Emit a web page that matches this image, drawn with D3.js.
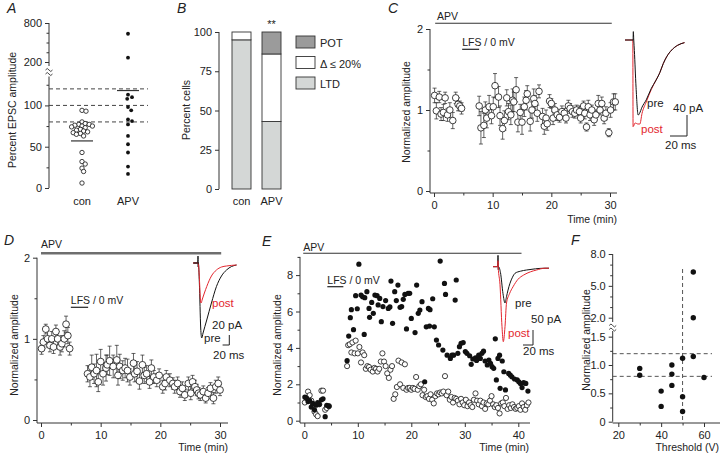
<!DOCTYPE html>
<html><head><meta charset="utf-8">
<script src="https://cdn.jsdelivr.net/npm/d3@7"></script>
<style>body{margin:0;background:#fff}svg{display:block}</style>
</head><body><svg id="c" width="720" height="454"></svg>
<script>
// ---------------- DATA ----------------
// Panel A
const aCategories = ["con", "APV"];
const aCon = [94,93,80,78,77,77,76,75,75,74,73,71,70,69,68,67,66,65,63,43,32,29,24,20,6];
const aApv = [635,266,113,110,108,98,94,83,81,77,63,53,43,26,17];
const aMeans = [57,118];
const aRefLines = [120,100,80];
// Panel B
const bCategories = ["con","APV"];
const bLTD = [95,43];
const bNoChange = [5,43];
const bPOT = [0,14];
const bLegend = ["POT","Δ ≤ 20%","LTD"];
// Panel C (time min, mean, sem)
const cTime = [0.1,0.4,0.9,1.2,1.6,1.9,2.3,2.7,3.2,3.7,4.1,4.4,4.7,
 7.7,8.0,8.5,8.75,9.0,9.4,9.8,10.1,10.4,11.0,11.25,11.7,12.0,12.4,12.7,13.1,13.4,13.6,14.0,14.3,14.7,15.0,15.4,15.7,15.9,16.4,16.7,17.0,17.2,17.6,17.9,18.5,18.8,19.1,19.3,19.7,20.0,20.3,20.6,21.0,21.4,21.8,22.2,22.5,22.9,23.2,23.6,24.0,24.3,24.8,25.0,25.5,25.7,26.0,26.3,26.6,26.9,27.3,27.6,28.0,28.3,28.6,29.0,29.3,29.8,30.1,30.6,30.9];
const cMean = [1.18,0.99,1.16,0.95,0.97,1.15,0.94,1.00,0.87,1.15,1.07,1.05,1.02,
 1.05,0.78,0.81,1.0,0.9,1.04,0.93,1.04,1.30,1.16,0.93,0.77,0.87,1.15,0.98,0.94,1.12,1.10,1.25,0.85,0.97,0.85,1.04,1.12,1.20,0.86,1.00,1.14,1.08,0.96,1.23,0.92,0.80,0.90,0.83,1.11,1.08,0.90,1.00,0.94,0.91,0.98,0.96,0.90,1.05,1.02,0.98,0.96,1.00,0.98,0.90,1.05,0.96,0.79,1.04,0.94,1.00,0.88,0.94,1.08,1.00,1.08,0.90,0.96,0.72,1.00,1.10,1.10];
const cErr = [0.09,0.1,0.07,0.08,0.1,0.07,0.08,0.09,0.1,0.07,0.08,0.06,0.07,
 0.12,0.2,0.15,0.1,0.12,0.14,0.1,0.12,0.15,0.13,0.12,0.13,0.12,0.1,0.1,0.12,0.14,0.12,0.15,0.12,0.1,0.15,0.12,0.12,0.1,0.12,0.1,0.12,0.1,0.1,0.08,0.1,0.1,0.1,0.08,0.08,0.06,0.08,0.08,0.07,0.06,0.07,0.06,0.06,0.07,0.06,0.07,0.06,0.06,0.07,0.06,0.06,0.07,0.05,0.08,0.07,0.06,0.07,0.06,0.1,0.06,0.08,0.07,0.08,0.05,0.09,0.1,0.1];
// Panel D
const dTime = [0.1,0.4,0.8,1.1,1.5,1.8,2.1,2.5,2.8,3.2,3.5,3.9,4.2,4.5,4.8,
 7.8,8.2,8.5,8.9,9.3,9.6,10.0,10.4,10.9,11.1,11.5,12.1,12.7,12.9,13.2,13.7,14.1,14.5,14.9,15.5,15.7,16.1,16.5,17.0,17.3,17.7,18.2,18.5,18.9,19.4,19.8,20.4,20.8,21.0,21.6,22.1,22.4,22.9,23.3,23.7,24.1,24.7,25.1,25.4,25.8,26.1,26.4,26.7,27.2,27.6,28.0,28.4,28.9,29.3,29.7,30.0];
const dMean = [0.88,0.96,1.12,1.0,0.92,1.0,0.9,1.09,1.0,0.9,0.94,1.0,1.18,1.04,0.88,
 0.57,0.53,0.65,0.57,0.61,0.47,0.72,0.57,0.64,0.68,0.73,0.66,0.74,0.55,0.66,0.61,0.64,0.61,0.53,0.70,0.57,0.60,0.48,0.68,0.55,0.57,0.47,0.64,0.53,0.49,0.55,0.41,0.45,0.53,0.49,0.45,0.41,0.45,0.35,0.39,0.31,0.45,0.33,0.47,0.41,0.37,0.33,0.31,0.35,0.27,0.33,0.39,0.27,0.41,0.45,0.37];
const dErr = [0.07,0.08,0.06,0.1,0.08,0.09,0.08,0.08,0.09,0.1,0.1,0.1,0.1,0.1,0.08,
 0.1,0.12,0.15,0.12,0.2,0.12,0.15,0.14,0.16,0.12,0.18,0.14,0.18,0.12,0.15,0.12,0.12,0.14,0.1,0.12,0.1,0.12,0.1,0.12,0.1,0.1,0.08,0.1,0.08,0.08,0.08,0.08,0.08,0.08,0.08,0.07,0.08,0.08,0.07,0.08,0.07,0.08,0.08,0.08,0.08,0.07,0.07,0.07,0.07,0.06,0.07,0.07,0.07,0.08,0.08,0.07];
// Panel E  [time, amplitude]
const eFilled = [[0.1,1.3],[0.4,1.25],[0.7,1.05],[1.0,1.1],[1.3,0.75],[1.6,0.95],[1.9,0.6],[2.2,0.85],[2.5,1.0],[2.8,0.9],[3.2,1.15],[3.5,1.2],[3.9,0.22],[4.2,0.85],[4.6,0.8],
 [8.0,3.3],[8.3,4.65],[8.6,5.66],[8.8,6.1],[9.2,5.0],[9.6,6.87],[9.9,6.15],[10.2,8.6],[10.6,6.9],[10.9,6.81],[11.2,4.74],[11.3,6.76],[11.7,7.09],[12.1,6.17],[12.2,5.68],[12.6,6.5],[12.9,5.9],[13.2,6.9],[13.6,6.87],[13.8,6.36],[14.1,6.72],[14.4,5.44],[14.7,6.27],[15.2,6.6],[15.7,6.17],[16.0,6.25],[16.2,7.67],[16.5,5.35],[16.9,7.09],[17.2,6.6],[17.5,7.45],[17.9,6.23],[18.2,6.27],[18.5,6.67],[18.8,6.94],[19.1,5.04],[19.4,7.0],[19.7,7.0],[20.0,5.62],[20.7,4.84],[21.0,7.45],[21.3,5.9],[21.6,6.08],[22.0,6.54],[22.5,2.14],[22.8,5.16],[23.2,6.17],[23.4,5.2],[23.5,6.1],[24.0,6.7],[24.3,5.16],[24.7,4.43],[25.1,4.16],[25.4,8.77],[25.9,3.88],[26.2,7.54],[26.4,6.94],[26.7,3.6],[27.3,3.42],[27.6,3.6],[27.9,3.6],[28.2,6.63],[28.4,7.73],[28.7,3.7],[29.0,4.07],[29.3,4.25],[29.7,4.29],[30.1,3.8],[30.4,3.7],[30.9,3.57],[31.2,3.1],[31.5,3.39],[32.0,3.46],[32.2,3.31],[32.6,3.6],[32.9,3.42],[33.2,3.7],[33.5,3.82],[33.8,3.28],[34.2,3.06],[34.5,3.33],[34.8,3.15],[35.1,2.97],[35.4,2.88],[35.7,4.5],[35.9,2.24],[36.2,3.42],[36.5,3.6],[36.6,1.78],[37.0,3.28],[37.3,2.69],[37.6,1.69],[38.2,2.6],[38.5,2.5],[38.8,2.41],[39.3,2.29],[39.8,2.24],[40.1,2.14],[40.4,2.05],[40.7,1.82],[41.0,2.09],[41.4,2.05],[41.8,1.63]];
const eOpen = [[0.1,1.0],[0.4,1.25],[0.7,1.6],[1.0,1.4],[1.3,1.1],[1.6,0.85],[1.9,0.5],[2.2,0.35],[2.5,0.25],[2.8,0.9],[3.2,1.65],[3.5,1.65],[3.9,0.6],[4.2,0.7],[4.6,0.8],
 [8.0,3.0],[8.2,4.15],[8.5,4.2],[8.8,3.75],[9.0,4.3],[9.4,3.7],[9.6,4.4],[10.0,3.7],[10.3,4.05],[10.6,3.2],[10.9,3.75],[11.2,3.6],[11.5,2.85],[11.8,3.0],[12.1,2.95],[12.4,2.8],[12.8,2.7],[13.1,2.9],[13.4,2.85],[13.7,2.7],[14.0,2.85],[14.3,3.25],[14.6,3.7],[14.9,3.25],[15.2,3.0],[15.5,2.6],[15.8,2.35],[16.1,2.8],[16.4,3.0],[16.7,1.2],[17.0,1.45],[17.3,1.85],[17.6,3.3],[17.9,2.0],[18.2,3.2],[18.5,1.8],[18.8,3.1],[19.1,1.7],[19.4,1.8],[19.7,1.8],[20.0,1.7],[20.3,1.8],[20.6,1.75],[20.9,2.4],[21.2,1.7],[21.5,1.9],[21.8,2.0],[22.1,1.4],[22.4,1.7],[22.7,1.3],[23.0,1.35],[23.3,1.2],[23.6,1.45],[23.9,1.15],[24.2,0.95],[24.5,1.35],[24.8,1.5],[25.1,1.45],[25.4,1.55],[25.7,1.5],[26.0,1.6],[26.3,2.45],[26.6,1.4],[26.9,1.6],[27.2,1.15],[27.5,1.3],[27.8,1.0],[28.1,1.25],[28.4,1.2],[28.7,1.1],[29.0,0.9],[29.3,1.2],[29.6,1.0],[29.9,0.85],[30.2,1.15],[30.5,0.8],[30.8,1.0],[31.1,0.85],[31.4,0.75],[31.7,1.15],[32.0,1.5],[32.3,1.1],[32.6,0.9],[32.9,1.1],[33.2,0.8],[33.5,1.0],[33.8,0.65],[34.1,0.95],[34.4,0.9],[34.7,1.1],[35.0,1.35],[35.3,0.9],[35.6,0.75],[35.9,0.85],[36.2,0.7],[36.5,0.4],[36.8,0.95],[37.1,1.0],[37.4,0.8],[37.7,1.25],[38.0,0.65],[38.3,0.85],[38.6,0.7],[38.9,0.9],[39.2,0.75],[39.5,0.65],[39.8,0.7],[40.1,0.8],[40.4,0.6],[40.7,0.95],[41.0,0.75],[41.3,0.6],[41.6,0.85],[41.9,1.0]];
// Panel F
const fThreshold = [55,55,55,50,60,50,50,45,45,45,40,40,30,30];
const fAmplitude = [6.3,2.0,1.15,1.12,0.78,0.44,0.18,1.0,0.84,0.64,0.54,0.27,0.94,0.82];
// Example traces [ms, pA]
const cPre = [[0,0],[9.5,0],[9.8,16],[10.3,0],[11,-20],[13,-90],[15.5,-143],[17,-140],[20,-128],[25,-114],[31,-92],[36,-78],[41,-62],[45,-45],[49,-32],[55,-19],[62,-10],[70,-5]];
const cPost = [[0,0],[9.2,0],[9.5,-165],[12,-158],[15,-160],[17.5,-160],[20,-140],[25,-118],[31,-94],[36,-78],[41,-62],[45,-45],[49,-32],[55,-19],[62,-10],[70,-5]];
const dPre = [[0,0],[14,0],[15,14],[15.5,-8],[16,0],[19,-40],[23,-130],[26,-150],[30,-140],[41,-114],[55,-80],[70,-47],[85,-26],[100,-14],[115,-7],[130,-4]];
const dPost = [[0,0],[14,0],[15.6,0],[19,-30],[22,-72],[24,-80],[28,-72],[34,-60],[41,-47],[55,-26],[70,-14],[85,-8],[100,-6],[130,-4]];
const ePre = [[0,0],[9.5,0],[10,38],[10.5,-10],[11,0],[15,-20],[20,-90],[24,-121],[27,-100],[30,-78],[34,-55],[39,-35],[44,-22],[55,-15],[67,-11],[85,-7],[104,-5],[112,-5]];
const ePost = [[0,0],[9.5,0],[10,20],[10.5,0],[14,-60],[18,-200],[20.6,-250],[24,-200],[27,-121],[33,-90],[40,-67],[50,-42],[61,-28],[75,-17],[87,-11],[104,-5],[112,-5]];

// ---------------- DRAWING ----------------
const svg = d3.select("#c");
const FONT = "'Liberation Sans', Arial, Helvetica, sans-serif";
const INK = "#222", AX = "#333", RED = "#e3262e";

function text(g, x, y, s, o = {}) {
  const t = g.append("text").attr("x", x).attr("y", y).text(s)
    .attr("font-family", FONT).attr("font-size", o.size || 10.5)
    .attr("fill", o.fill || INK).attr("text-anchor", o.anchor || "start");
  if (o.italic) t.attr("font-style", "italic");
  if (o.rotate) t.attr("transform", `rotate(-90,${x},${y})`);
  return t;
}
function seg(g, x1, y1, x2, y2, o = {}) {
  return g.append("line").attr("x1", x1).attr("y1", y1).attr("x2", x2).attr("y2", y2)
    .attr("stroke", o.c || AX).attr("stroke-width", o.w || 1)
    .attr("stroke-dasharray", o.dash || null);
}
function styleAxis(sel) {
  sel.select(".domain").remove();
  sel.selectAll(".tick line").attr("stroke", AX);
  sel.selectAll(".tick text").attr("font-family", FONT).attr("font-size", 11).attr("fill", INK);
}
function yAxis(g, sc, x, majors, minors, fmt, y1, y2) {
  seg(g, x, y1, x, y2);
  g.append("g").attr("transform", `translate(${x},0)`)
    .call(d3.axisLeft(sc).tickValues(majors).tickFormat(fmt).tickSize(4).tickPadding(3)).call(styleAxis);
  if (minors.length) g.append("g").attr("transform", `translate(${x},0)`)
    .call(d3.axisLeft(sc).tickValues(minors).tickFormat("").tickSize(2.5)).call(styleAxis);
}
function xAxis(g, sc, y, majors, minors, fmt, x1, x2) {
  seg(g, x1, y, x2, y);
  g.append("g").attr("transform", `translate(0,${y})`)
    .call(d3.axisBottom(sc).tickValues(majors).tickFormat(fmt).tickSize(4).tickPadding(4)).call(styleAxis);
  if (minors.length) g.append("g").attr("transform", `translate(0,${y})`)
    .call(d3.axisBottom(sc).tickValues(minors).tickFormat("").tickSize(2.5)).call(styleAxis);
}
function breakMark(g, x, y) {
  g.append("rect").attr("x", x - 4).attr("y", y - 4).attr("width", 8).attr("height", 8).attr("fill", "#fff");
  [-2, 2].forEach(d => g.append("path")
    .attr("d", `M${x - 3.5},${y + d + 1} q1.75,-3 3.5,0 t3.5,0`)
    .attr("fill", "none").attr("stroke", AX).attr("stroke-width", 0.9));
}
function errCircles(g, xs, ys, T, M, E, r) {
  T.forEach((t, i) => {
    const x = xs(t), e = E[i] ?? 0.08, ya = ys(M[i] - e), yb = ys(M[i] + e);
    seg(g, x, ya, x, yb, { w: 0.7, c: "#222" });
    seg(g, x - 2, ya, x + 2, ya, { w: 0.7, c: "#222" });
    seg(g, x - 2, yb, x + 2, yb, { w: 0.7, c: "#222" });
  });
  g.selectAll(null).data(T).enter().append("circle")
    .attr("cx", t => xs(t)).attr("cy", (t, i) => ys(M[i])).attr("r", r)
    .attr("fill", "#fff").attr("stroke", "#111").attr("stroke-width", 0.8);
}
function trace(g, data, x0, y0, kx, ky, color) {
  const xs = d3.scaleLinear().domain([0, 100]).range([x0, x0 + 100 * kx]);
  const ys = d3.scaleLinear().domain([0, -100]).range([y0, y0 + 100 * ky]);
  g.append("path").datum(data)
    .attr("d", d3.line().x(d => xs(d[0])).y(d => ys(d[1])).curve(d3.curveMonotoneX))
    .attr("fill", "none").attr("stroke", color).attr("stroke-width", 1);
  return { xs, ys };
}
function scaleBar(g, xRight, yBottom, kx, ky, ms, pA) {
  seg(g, xRight, yBottom - pA * ky, xRight, yBottom, { c: "#222" });
  seg(g, xRight - ms * kx, yBottom, xRight, yBottom, { c: "#222" });
}

// ===== Panel A =====
const gA = svg.append("g");
text(gA, 7, 13, "A", { size: 14, italic: true });
const aLow = d3.scaleLinear().domain([0, 135]).range([188, 76.5]);
const aHigh = d3.scaleLinear().domain([200, 800]).range([62, 23]);
const aY = v => (v >= 200 ? aHigh(v) : aLow(v));
const aX = d3.scalePoint().domain(aCategories).range([82, 128]);
seg(gA, 49, 188, 49, 76.5); seg(gA, 49, 66, 49, 23);
gA.append("g").attr("transform", "translate(49,0)").call(d3.axisLeft(aLow).tickValues([0, 50, 100]).tickSize(4).tickPadding(3)).call(styleAxis);
gA.append("g").attr("transform", "translate(49,0)").call(d3.axisLeft(aLow).tickValues([25, 75, 125]).tickFormat("").tickSize(2.5)).call(styleAxis);
gA.append("g").attr("transform", "translate(49,0)").call(d3.axisLeft(aHigh).tickValues([200, 800]).tickSize(4).tickPadding(3)).call(styleAxis);
gA.append("g").attr("transform", "translate(49,0)").call(d3.axisLeft(aHigh).tickValues([350, 500, 650]).tickFormat("").tickSize(2.5)).call(styleAxis);
breakMark(gA, 49, 71);
text(gA, 16, 110, "Percent EPSC amplitude", { rotate: true, anchor: "middle", size: 10.5 });
aRefLines.forEach(v => seg(gA, 49, aLow(v), 148, aLow(v), { dash: "4,3", c: "#444" }));
function dodge(vals, cx, r, k0) {
  const placed = [];
  const order = vals.map((v, i) => i).sort((a, b) => vals[b] - vals[a]);
  const out = [];
  order.forEach(i => {
    const y = aY(vals[i]);
    let best = 0;
    for (let k = 0; k < 60; k++) {
      const dx = (k % 2 ? 1 : -1) * Math.ceil(k / 2) * 0.8;
      if (placed.every(p => Math.hypot(p.x - (cx + dx), p.y - y) >= k0 * r)) { best = dx; break; }
    }
    const p = { x: cx + best, y };
    placed.push(p); out.push(p);
  });
  return out;
}
dodge(aCon, aX("con"), 2.2, 1.6).forEach(p => gA.append("circle").attr("cx", p.x).attr("cy", p.y).attr("r", 2.2)
  .attr("fill", "#fff").attr("stroke", "#111").attr("stroke-width", 0.8));
dodge(aApv, aX("APV"), 1.9, 2.2).forEach(p => gA.append("circle").attr("cx", p.x).attr("cy", p.y).attr("r", 1.9).attr("fill", "#111"));
aCategories.forEach((c, i) => seg(gA, aX(c) - 11, aY(aMeans[i]), aX(c) + 11, aY(aMeans[i]), { w: 1.2 }));
aCategories.forEach(c => text(gA, aX(c), 205, c, { anchor: "middle", size: 11 }));

// ===== Panel B =====
const gB = svg.append("g");
text(gB, 177, 13, "B", { size: 14, italic: true });
const bY = d3.scaleLinear().domain([0, 100]).range([189, 32]);
const bX = d3.scalePoint().domain(bCategories).range([241.5, 271.5]);
yAxis(gB, bY, 219, [0, 25, 50, 75, 100], [], d3.format("d"), 32, 189);
text(gB, 190, 110, "Percent cells", { rotate: true, anchor: "middle", size: 10.5 });
const bColors = ["#d4d7d6", "#ffffff", "#9b9b9b"];
const bStack = d3.stack().keys([0, 1, 2]).value((d, k) => d[k])(bCategories.map((c, i) => [bLTD[i], bNoChange[i], bPOT[i]]));
bStack.forEach((layer, k) => layer.forEach((d, i) => {
  if (d[1] - d[0] <= 0) return;
  gB.append("rect").attr("x", bX(bCategories[i]) - 9.5).attr("width", 19)
    .attr("y", bY(d[1])).attr("height", bY(d[0]) - bY(d[1]))
    .attr("fill", bColors[k]).attr("stroke", "#333").attr("stroke-width", 0.9);
}));
text(gB, bX("APV"), 28, "**", { anchor: "middle", size: 11 });
bCategories.forEach(c => text(gB, bX(c), 205, c, { anchor: "middle", size: 11 }));
[2, 1, 0].forEach((k, j) => {
  gB.append("rect").attr("x", 296).attr("y", 36 + j * 20.5).attr("width", 19).attr("height", 12)
    .attr("fill", bColors[k]).attr("stroke", "#333").attr("stroke-width", 0.9);
  text(gB, 320, 47 + j * 20.5, bLegend[j], { size: 11 });
});

// ===== Panel C =====
const gC = svg.append("g");
text(gC, 388, 13, "C", { size: 14, italic: true });
const cX = d3.scaleLinear().domain([0, 30]).range([434, 610]);
const cY = d3.scaleLinear().domain([0, 2]).range([191, 29]);
yAxis(gC, cY, 430, [0, 1, 2], [0.5, 1.5], d3.format("d"), 29, 193);
xAxis(gC, cX, 193, [0, 10, 20, 30], [5, 15, 25], d3.format("d"), 430, 617);
text(gC, 617, 223, "Time (min)", { anchor: "end" });
text(gC, 410, 112, "Normalized amplitude", { rotate: true, anchor: "middle" });
seg(gC, cX(0.2), 23.3, cX(30.3), 23.3, { w: 1.1, c: "#333" });
text(gC, cX(0.5), 20, "APV");
seg(gC, cX(4.8), 49.3, cX(7.7), 49.3, { w: 1.2, c: "#222" });
text(gC, cX(4.8), 45.5, "LFS / 0 mV");
errCircles(gC, cX, cY, cTime, cMean, cErr, 3.3);
trace(gC, cPost, 625, 40, 0.85, 0.525, RED);
trace(gC, cPre, 625, 40, 0.85, 0.525, "#111");
text(gC, 647, 107, "pre", { size: 11.5 });
text(gC, 641, 133, "post", { size: 11.5, fill: RED });
scaleBar(gC, 687, 136, 0.85, 0.525, 20, 40);
text(gC, 673, 112, "40 pA", { size: 11.5 });
text(gC, 665, 149, "20 ms", { size: 11.5 });

// ===== Panel D =====
const gD = svg.append("g");
text(gD, 4, 245, "D", { size: 14, italic: true });
const dX = d3.scaleLinear().domain([0, 30]).range([41, 220]);
const dY = d3.scaleLinear().domain([0, 2]).range([420, 257.7]);
yAxis(gD, dY, 37, [0, 1, 2], [0.5, 1.5], d3.format("d"), 257.7, 423);
xAxis(gD, dX, 423, [0, 10, 20, 30], [5, 15, 25], d3.format("d"), 37, 228);
text(gD, 228, 451, "Time (min)", { anchor: "end" });
text(gD, 18, 345, "Normalized amplitude", { rotate: true, anchor: "middle" });
seg(gD, dX(0), 253.3, dX(30.2), 253.3, { w: 2.6, c: "#6e6e6e" });
text(gD, dX(0), 248, "APV");
seg(gD, dX(5), 307.3, dX(7.9), 307.3, { w: 1.2, c: "#222" });
text(gD, dX(5), 304, "LFS / 0 mV");
errCircles(gD, dX, dY, dTime, dMean, dErr, 3.4);
trace(gD, dPre, 193, 263, 0.335, 0.5, "#111");
trace(gD, dPost, 193, 263, 0.335, 0.5, RED);
seg(gD, 193.5, 263, 199, 263, { c: "#111" });
text(gD, 212, 307, "post", { size: 11.5, fill: RED });
text(gD, 204, 342, "pre", { size: 11.5 });
scaleBar(gD, 229.3, 345, 0.335, 0.5, 20, 20);
text(gD, 212, 329, "20 pA", { size: 11.5 });
text(gD, 213, 359, "20 ms", { size: 11.5 });

// ===== Panel E =====
const gE = svg.append("g");
text(gE, 262, 246, "E", { size: 14, italic: true });
const eX = d3.scaleLinear().domain([0, 40]).range([304.3, 518.3]);
const eY = d3.scaleLinear().domain([0, 9]).range([420.7, 256.9]);
yAxis(gE, eY, 300, [0, 2, 4, 6, 8], [1, 3, 5, 7, 9], d3.format("d"), 256.9, 423);
xAxis(gE, eX, 423, [0, 10, 20, 30, 40], [5, 15, 25, 35], d3.format("d"), 300, 530);
text(gE, 529, 451, "Time (min)", { anchor: "end" });
text(gE, 281, 345, "Normalized amplitude", { rotate: true, anchor: "middle" });
seg(gE, eX(-0.2), 253.3, eX(40.6), 253.3, { w: 1.1, c: "#333" });
text(gE, eX(-0.2), 250.5, "APV");
seg(gE, eX(4.3), 286.7, eX(7.3), 286.7, { w: 1.2, c: "#222" });
text(gE, eX(4.3), 284, "LFS / 0 mV");
gE.selectAll(null).data(eOpen).enter().append("circle")
  .attr("cx", d => eX(d[0])).attr("cy", d => eY(d[1])).attr("r", 2.6)
  .attr("fill", "#fff").attr("stroke", "#111").attr("stroke-width", 0.8);
gE.selectAll(null).data(eFilled).enter().append("circle")
  .attr("cx", d => eX(d[0])).attr("cy", d => eY(d[1])).attr("r", 2.6).attr("fill", "#111");
trace(gE, ePre, 493, 266.7, 0.5, 0.3, "#111");
trace(gE, ePost, 493, 266.7, 0.5, 0.3, RED);
text(gE, 515, 307, "pre", { size: 11.5 });
text(gE, 508, 337, "post", { size: 11.5, fill: RED });
scaleBar(gE, 533, 345, 0.5, 0.3, 20, 50);
text(gE, 531, 323, "50 pA", { size: 11.5 });
text(gE, 523, 355, "20 ms", { size: 11.5 });

// ===== Panel F =====
const gF = svg.append("g");
text(gF, 571, 245, "F", { size: 14, italic: true });
const fX = d3.scaleLinear().domain([20, 60]).range([618.3, 704]);
const fLow = d3.scaleLinear().domain([0, 1.6]).range([421.7, 331]);
const fHigh = d3.scaleLinear().domain([2, 8]).range([317.7, 254]);
const fY = v => (v >= 1.8 ? fHigh(v) : fLow(v));
seg(gF, 612.7, 421.7, 612.7, 331); seg(gF, 612.7, 322, 612.7, 254);
gF.append("g").attr("transform", "translate(612.7,0)").call(d3.axisLeft(fLow).tickValues([0, 0.5, 1.0, 1.5]).tickFormat(v => v === 0 ? "0" : d3.format(".1f")(v)).tickSize(4).tickPadding(3)).call(styleAxis);
gF.append("g").attr("transform", "translate(612.7,0)").call(d3.axisLeft(fLow).tickValues([0.25, 0.75, 1.25]).tickFormat("").tickSize(2.5)).call(styleAxis);
gF.append("g").attr("transform", "translate(612.7,0)").call(d3.axisLeft(fHigh).tickValues([2, 5, 8]).tickFormat(d3.format(".1f")).tickSize(4).tickPadding(3)).call(styleAxis);
gF.append("g").attr("transform", "translate(612.7,0)").call(d3.axisLeft(fHigh).tickValues([3, 4, 6, 7]).tickFormat("").tickSize(2.5)).call(styleAxis);
breakMark(gF, 612.7, 326.5);
xAxis(gF, fX, 423, [20, 40, 60], [30, 50], d3.format("d"), 612.7, 720);
text(gF, 719, 451, "Threshold (V)", { anchor: "end" });
text(gF, 590, 340, "Normalized amplitude", { rotate: true, anchor: "middle" });
seg(gF, fX(50), 269, fX(50), 421.7, { dash: "4,3", c: "#555" });
[1.2, 0.8].forEach(v => seg(gF, 612.7, fLow(v), 712, fLow(v), { dash: "4,3", c: "#555" }));
gF.selectAll(null).data(fThreshold).enter().append("circle")
  .attr("cx", d => fX(d)).attr("cy", (d, i) => fY(fAmplitude[i])).attr("r", 2.7).attr("fill", "#111");
</script></body></html>
